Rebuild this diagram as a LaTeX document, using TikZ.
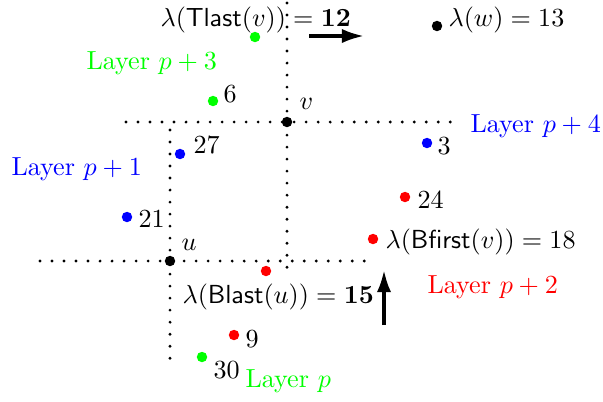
\documentclass[tikz,border=0pt]{standalone}
\usetikzlibrary{arrows.meta}
\definecolor{lgreen}{RGB}{0,255,0}
\definecolor{lblue}{RGB}{0,0,255}
\definecolor{lred}{RGB}{255,0,0}
\begin{document}
\begin{tikzpicture}[x=0.383pt,y=-0.383pt,
  dot/.style={circle,inner sep=0pt,minimum size=4pt},
  lbl/.style={inner sep=0pt,anchor=base west},
  dotline/.style={line width=1.2pt,line cap=round,dash pattern=on 0pt off 4.6pt},
  bigarrow/.style={line width=1.3pt,-{Latex[length=8.5pt,width=5.5pt]}}]
\useasboundingbox (0,0) rectangle (603,401);
% dotted lines
\coordinate (h1a) at (126,122); \coordinate (h1b) at (462,122);
\coordinate (v1a) at (287,3); \coordinate (v1b) at (287,273);
\coordinate (h2a) at (40,261); \coordinate (h2b) at (366,261);
\coordinate (v2a) at (170,130); \coordinate (v2b) at (170,368);
\draw[dotline] (h1a) -- (h1b);
\draw[dotline] (v1a) -- (v1b);
\draw[dotline] (h2a) -- (h2b);
\draw[dotline] (v2a) -- (v2b);
% dots
\node[dot,fill=black] (v) at (287,122) {};
\node[dot,fill=black] (u) at (170,261) {};
\node[dot,fill=black] (w) at (437,26) {};
\node[dot,fill=lgreen] (tl) at (255,37) {};
\node[dot,fill=lgreen] (d6) at (213,101) {};
\node[dot,fill=lgreen] (d30) at (202,357) {};
\node[dot,fill=lblue] (d27) at (180,154) {};
\node[dot,fill=lblue] (d21) at (127,217) {};
\node[dot,fill=lblue] (d3) at (427,143) {};
\node[dot,fill=lred] (d24) at (405,197) {};
\node[dot,fill=lred] (bf) at (373,239) {};
\node[dot,fill=lred] (bl) at (266,271) {};
\node[dot,fill=lred] (d9) at (234,335) {};
% labels
\node[lbl] (ltl) at (160,26) {$\lambda(\mathsf{Tlast}(v)) = \mathbf{12}$};
\node[lbl] (lw) at (448,26) {$\lambda(w) = 13$};
\node[lbl,text=lgreen] (lp3) at (86,69) {Layer $p+3$};
\node[lbl] (l6) at (223,102) {$6$};
\node[lbl] (lv) at (299,109) {$v$};
\node[lbl,text=lblue] (lp4) at (470,132) {Layer $p+4$};
\node[lbl] (l27) at (193,153) {$27$};
\node[lbl] (l3) at (437,154) {$3$};
\node[lbl,text=lblue] (lp1) at (11,175) {Layer $p+1$};
\node[lbl] (l24) at (417,208) {$24$};
\node[lbl] (l21) at (138,227) {$21$};
\node[lbl] (lbf) at (385,248) {$\lambda(\mathsf{Bfirst}(v)) = 18$};
\node[lbl] (lu) at (181,250) {$u$};
\node[lbl,text=lred] (lp2) at (427,293) {Layer $p+2$};
\node[lbl] (lbl) at (182,303) {$\lambda(\mathsf{Blast}(u)) = \mathbf{15}$};
\node[lbl] (l9) at (245,347) {$9$};
\node[lbl] (l30) at (213,378) {$30$};
\node[lbl,text=lgreen] (lp) at (245,387) {Layer $p$};
% arrows
\coordinate (a1) at (309,36); \coordinate (a2) at (364,36);
\coordinate (b1) at (384,325); \coordinate (b2) at (384,270);
\draw[bigarrow] (a1) -- (a2);
\draw[bigarrow] (b1) -- (b2);
\end{tikzpicture}
\end{document}
